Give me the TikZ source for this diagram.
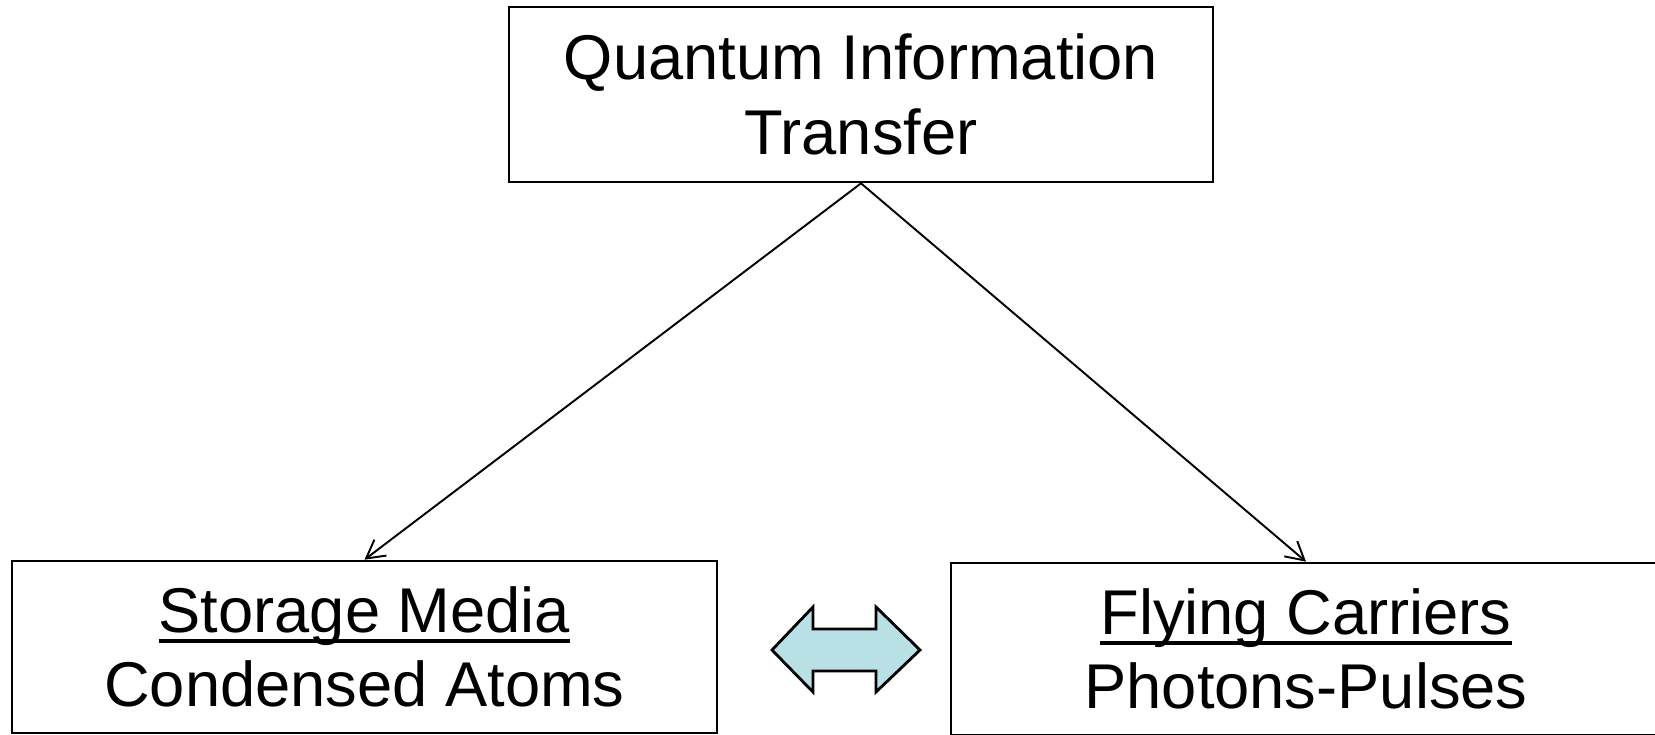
\documentclass[tikz,border=0pt]{standalone}
\usepackage{fontspec}
\setmainfont{Liberation Sans}
\usetikzlibrary{positioning,arrows.meta}
\definecolor{paleteal}{RGB}{185,224,228}
\newcommand{\ulined}[1]{\setbox0\hbox{#1}\rlap{\rule[-0.22cm]{\wd0}{0.08cm}}\box0}
\tikzset{
infobox/.style={
  draw,
  line width=1.5pt,
  align=center,
  inner sep=0pt,
  font=\fontsize{36}{42.5}\selectfont
  },
link/.style={
  line width=1.1pt,
  -{Straight Barb[length=0.36cm,width=0.4cm,line width=1.1pt]}
  },
swaparrow/.style={
  draw,
  line width=1.6pt,
  line join=miter,
  fill=paleteal
  }
}

\begin{document}
\begin{tikzpicture}
  \useasboundingbox (0,0) rectangle (33.1,14.68);

  \node[infobox,minimum width=14.08cm,minimum height=3.5cm] at (17.22,12.79)
  (qit) {Quantum Information\\Transfer};

  \node[infobox,minimum width=14.1cm,minimum height=3.44cm] at (7.29,1.74)
  (storage) {\ulined{Storage Media}\\Condensed Atoms};

  \node[infobox,minimum width=14.2cm,minimum height=3.44cm] at (26.12,1.70)
  (flying) {\ulined{Flying Carriers}\\Photons-Pulses};

  \draw[link] (qit.south) -- (storage.north);
  \draw[link] (qit.south) -- (flying.north);

  % two-headed block arrow between the lower boxes
  \coordinate (swap) at (16.92,1.68);
  \path[swaparrow] (swap) ++(-1.48,0) -- ++(0.82,0.86) -- ++(0,-0.44)
    -- ++(1.26,0) -- ++(0,0.44) -- ++(0.88,-0.86) -- ++(-0.88,-0.84)
    -- ++(0,0.42) -- ++(-1.26,0) -- ++(0,-0.42) -- cycle;

\end{tikzpicture}
\end{document}
